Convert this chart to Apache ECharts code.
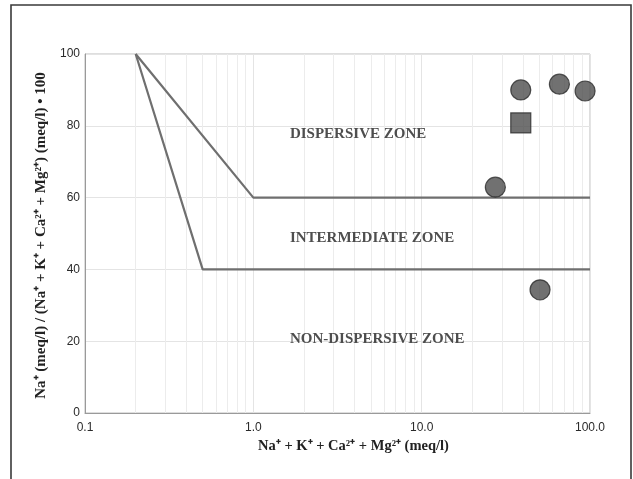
<!DOCTYPE html>
<html>
<head>
<meta charset="utf-8">
<script src="https://cdn.jsdelivr.net/npm/echarts@6/dist/echarts.min.js"></script>
<style>
  html, body { margin: 0; padding: 0; background: #fff; }
  #chart { width: 633px; height: 479px; }
</style>
</head>
<body>
<div id="chart"></div>
<script>
  // zone boundaries
  const upperLineX = [0.2, 1, 100]
  const upperLineY = [100, 60, 60]
  const lowerLineX = [0.2, 0.5, 100]
  const lowerLineY = [100, 40, 40]

  // samples (circles) and one square sample
  const circleX = [38.8, 65.8, 93.5, 27.4, 50.5]
  const circleY = [90, 91.6, 89.7, 62.9, 34.3]
  const squareX = [38.8]
  const squareY = [80.8]

  // zone names and where they sit
  const zoneNames = ['DISPERSIVE ZONE', 'INTERMEDIATE ZONE', 'NON-DISPERSIVE ZONE']
  const zoneX = [1.65, 1.65, 1.65]
  const zoneY = [77.7, 48.8, 20.6]

  // minor log grid lines
  const minorGridX = [0.2, 0.3, 0.4, 0.5, 0.6, 0.7, 0.8, 0.9,
    2, 3, 4, 5, 6, 7, 8, 9, 20, 30, 40, 50, 60, 70, 80, 90]

  const zip = (xs, ys) => xs.map((x, i) => [x, ys[i]])

  const serif = 'Liberation Serif'
  const lineStyle = { color: '#6f6f6f', width: 2.2 }
  const markerStyle = { color: '#4d4d4d', borderColor: '#2a2a2a', borderWidth: 1.2 }

  let chart = echarts.init(document.getElementById('chart'))
  let option = {
    animation: false,
    backgroundColor: '#fff',
    grid: {
      left: 85, right: 43, top: 54, bottom: 66,
      show: true, borderColor: '#bcbcbc', borderWidth: 1
    },
    graphic: [
      {
        type: 'rect',
        shape: { x: 11, y: 5, width: 620, height: 520 },
        style: { fill: 'none', stroke: '#3a3a3a', lineWidth: 1.6 },
        silent: true
      }
    ],
    xAxis: {
      type: 'log',
      logBase: 10,
      min: 0.1,
      max: 100,
      name: 'Na⁺ + K⁺ + Ca²⁺ + Mg²⁺ (meq/l)',
      nameLocation: 'middle',
      nameGap: 26,
      nameTextStyle: {
        fontFamily: serif, fontWeight: 'bold', fontSize: 14.5, color: '#222',
        padding: [0, 0, 0, 32]
      },
      axisLine: { lineStyle: { color: '#9a9a9a' } },
      axisTick: { show: false },
      axisLabel: {
        color: '#2a2a2a', fontSize: 12, fontFamily: 'Liberation Sans', margin: 9,
        formatter: v => Number(v).toFixed(1)
      },
      splitLine: { show: true, lineStyle: { color: '#e4e4e4', width: 1 } }
    },
    yAxis: {
      type: 'value',
      min: 0,
      max: 100,
      interval: 20,
      name: 'Na⁺ (meq/l) / (Na⁺ + K⁺ + Ca²⁺ + Mg²⁺) (meq/l) • 100',
      nameLocation: 'middle',
      nameRotate: 90,
      nameGap: 28.5,
      nameTextStyle: {
        fontFamily: serif, fontWeight: 'bold', fontSize: 15, color: '#222',
        padding: [0, 4, 0, 0]
      },
      axisLine: { show: true, lineStyle: { color: '#9a9a9a' } },
      axisTick: { show: false },
      axisLabel: { color: '#2a2a2a', fontSize: 12, fontFamily: 'Liberation Sans', margin: 5 },
      splitLine: { show: true, lineStyle: { color: '#e4e4e4', width: 1 } }
    },
    series: [
      {
        // minor grid lines of the log axis, kept under everything else
        type: 'line',
        data: [],
        silent: true,
        z: 0,
        markLine: {
          symbol: 'none',
          silent: true,
          z: 0,
          label: { show: false },
          lineStyle: { color: '#ececec', width: 1, type: 'solid' },
          data: minorGridX.map(x => ({ xAxis: x }))
        }
      },
      {
        type: 'line',
        data: zip(upperLineX, upperLineY),
        showSymbol: false,
        lineStyle: lineStyle,
        z: 3
      },
      {
        type: 'line',
        data: zip(lowerLineX, lowerLineY),
        showSymbol: false,
        lineStyle: lineStyle,
        z: 3
      },
      {
        // zone labels
        type: 'scatter',
        symbolSize: 0,
        silent: true,
        z: 4,
        data: zoneNames.map((n, i) => ({ value: [zoneX[i], zoneY[i]], name: n })),
        label: {
          show: true,
          position: 'right',
          distance: 0,
          formatter: p => p.name,
          fontFamily: serif,
          fontWeight: 'bold',
          fontSize: 15,
          color: '#222'
        }
      },
      {
        type: 'scatter',
        symbol: 'circle',
        symbolSize: 20,
        data: zip(circleX, circleY),
        itemStyle: markerStyle,
        z: 5
      },
      {
        type: 'scatter',
        symbol: 'rect',
        symbolSize: 20,
        data: zip(squareX, squareY),
        itemStyle: markerStyle,
        z: 5
      }
    ]
  }
  chart.setOption(option)
</script>
</body>
</html>
